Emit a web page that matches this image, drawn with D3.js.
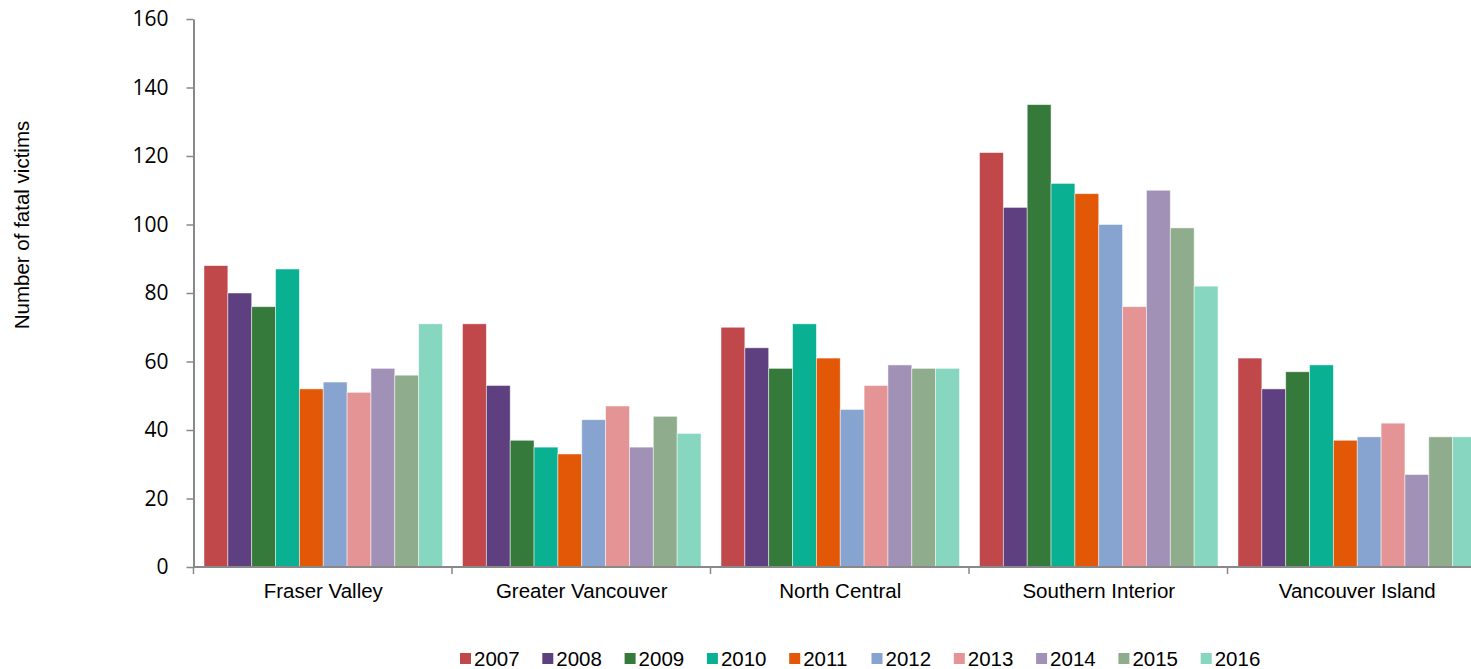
<!DOCTYPE html>
<html>
<head>
<meta charset="utf-8">
<script src="https://cdn.jsdelivr.net/npm/d3@7"></script>
<style>
  body { margin: 0; background: #fff; }
  #chart svg { display: block; }
</style>
</head>
<body>
<div id="chart"></div>
<script>
// regions on the x axis
const regions = ["Fraser Valley", "Greater Vancouver", "North Central", "Southern Interior", "Vancouver Island"];
// one series per year
const years = ["2007", "2008", "2009", "2010", "2011", "2012", "2013", "2014", "2015", "2016"];
const yearColors = ["#c0474a", "#5e3f7f", "#357a3b", "#0ab092", "#e35806", "#87a3d0", "#e49494", "#a291b6", "#8fad8c", "#86d6c0"];

// values per region, in the same order as years
const fraserValley     = [88, 80, 76, 87, 52, 54, 51, 58, 56, 71];
const greaterVancouver = [71, 53, 37, 35, 33, 43, 47, 35, 44, 39];
const northCentral     = [70, 64, 58, 71, 61, 46, 53, 59, 58, 58];
const southernInterior = [121, 105, 135, 112, 109, 100, 76, 110, 99, 82];
const vancouverIsland  = [61, 52, 57, 59, 37, 38, 42, 27, 38, 38];

const yTicks = [0, 20, 40, 60, 80, 100, 120, 140, 160];

const valuesByRegion = [fraserValley, greaterVancouver, northCentral, southernInterior, vancouverIsland];
const data = regions.map((r, i) => ({
    region: r,
    values: years.map((y, j) => ({ year: y, value: valuesByRegion[i][j] }))
}));

const width = 1471, height = 669;
const plot = { left: 194, top: 19, bottom: 567, groupWidth: 258.5 };

const svg = d3.select("#chart").append("svg")
    .attr("width", width)
    .attr("height", height);

// scales
const x0 = d3.scaleBand()
    .domain(regions)
    .range([plot.left, plot.left + plot.groupWidth * regions.length])
    .padding(0);

const x1 = d3.scaleBand()
    .domain(years)
    .range([10, plot.groupWidth - 10])
    .padding(0);

const y = d3.scaleLinear()
    .domain([0, 160])
    .range([plot.bottom, plot.top]);

const color = d3.scaleOrdinal().domain(years).range(yearColors);

// bars
const groups = svg.append("g").selectAll("g")
    .data(data)
    .join("g")
    .attr("transform", d => `translate(${x0(d.region)},0)`);

groups.selectAll("rect")
    .data(d => d.values)
    .join("rect")
    .attr("x", d => x1(d.year))
    .attr("y", d => y(d.value))
    .attr("width", x1.bandwidth())
    .attr("height", d => y(0) - y(d.value))
    .attr("fill", d => color(d.year))
    .attr("stroke", "rgba(255,255,255,0.6)")
    .attr("stroke-width", 0.8);

// y axis
const yAxis = svg.append("g")
    .attr("transform", `translate(${plot.left - 0.5},0)`)
    .call(d3.axisLeft(y).tickValues(yTicks).tickSize(7).tickPadding(18).tickSizeOuter(0));
yAxis.select(".domain").attr("stroke", "#898989").attr("stroke-width", 2);
yAxis.selectAll(".tick line").attr("stroke", "#898989").attr("stroke-width", 1.5);
yAxis.selectAll("text")
    .style("font-family", "'Open Sans', Lato, sans-serif")
    .style("font-size", "21px")
    .attr("fill", "#000");

// x axis: baseline, boundary ticks and region labels
const xAxis = svg.append("g")
    .attr("transform", `translate(0,${plot.bottom})`)
    .call(d3.axisBottom(x0).tickSize(0).tickPadding(16).tickSizeOuter(0));
xAxis.select(".domain").remove();
xAxis.selectAll("text")
    .style("font-family", "'Liberation Sans', Arial, sans-serif")
    .style("font-size", "20.5px")
    .attr("fill", "#000");

svg.append("line")
    .attr("x1", plot.left - 1)
    .attr("x2", width)
    .attr("y1", plot.bottom)
    .attr("y2", plot.bottom)
    .attr("stroke", "#898989")
    .attr("stroke-width", 2);

svg.append("g").selectAll("line")
    .data(regions)
    .join("line")
    .attr("x1", d => x0(d) - 0.5)
    .attr("x2", d => x0(d) - 0.5)
    .attr("y1", plot.bottom)
    .attr("y2", plot.bottom + 7)
    .attr("stroke", "#898989")
    .attr("stroke-width", 1.5);

// y axis title
svg.append("text")
    .attr("transform", "translate(29,225) rotate(-90)")
    .attr("text-anchor", "middle")
    .style("font-family", "'Liberation Sans', Arial, sans-serif")
    .style("font-size", "20.5px")
    .attr("fill", "#000")
    .text("Number of fatal victims");

// legend
const legendStart = 460, legendStep = 82.3;
const legend = svg.append("g").selectAll("g")
    .data(years)
    .join("g")
    .attr("transform", (d, i) => `translate(${legendStart + i * legendStep},653)`);

legend.append("rect")
    .attr("width", 11)
    .attr("height", 11)
    .attr("fill", d => color(d));

legend.append("text")
    .attr("x", 14)
    .attr("y", 13)
    .style("font-family", "'Liberation Sans', Arial, sans-serif")
    .style("font-size", "20.5px")
    .attr("fill", "#000")
    .text(d => d);
</script>
</body>
</html>
